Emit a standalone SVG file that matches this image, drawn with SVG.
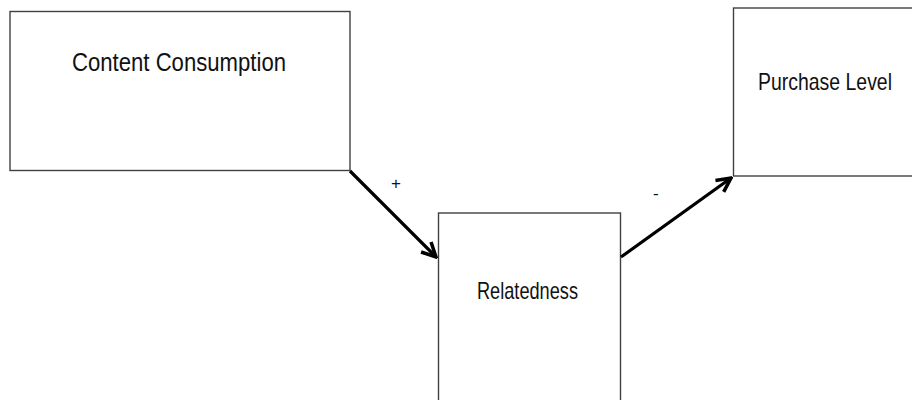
<svg xmlns="http://www.w3.org/2000/svg" width="912" height="400" viewBox="0 0 912 400">
  <style>
    .box { fill: #ffffff; stroke: #404040; stroke-width: 1.4; }
    .label { font-family: "Liberation Sans", Arial, sans-serif; fill: #111111; }
    .edge { fill: none; stroke: #000000; stroke-width: 3.2; }
    .sign { font-family: "Liberation Sans", Arial, sans-serif; font-size: 17px; fill: #111111; }
  </style>
  <defs>
    <marker id="arrow" viewBox="0 0 10 10" refX="9" refY="5" markerWidth="5.5" markerHeight="5.5" orient="auto" markerUnits="strokeWidth">
      <path d="M1,1 L9,5 L1,9" fill="none" stroke="#000000" stroke-width="2" stroke-linejoin="miter"/>
    </marker>
  </defs>
  <rect width="912" height="400" fill="#ffffff"/>

  <g id="content-consumption">
    <rect class="box" x="10" y="11.5" width="340" height="159"/>
    <text class="label" x="72" y="71" font-size="25" textLength="214" lengthAdjust="spacingAndGlyphs">Content  Consumption</text>
  </g>

  <g id="relatedness">
    <rect class="box" x="438.5" y="213" width="182" height="200"/>
    <text class="label" x="477" y="299" font-size="24" textLength="101" lengthAdjust="spacingAndGlyphs">Relatedness</text>
  </g>

  <g id="purchase-level">
    <rect class="box" x="733.5" y="8" width="200" height="168"/>
    <text class="label" x="758" y="90" font-size="24" textLength="134" lengthAdjust="spacingAndGlyphs">Purchase Level</text>
  </g>

  <g id="connectors">
    <line class="edge" x1="350" y1="171" x2="436" y2="257" marker-end="url(#arrow)"/>
    <text class="sign" x="391" y="189">+</text>
    <line class="edge" x1="621" y1="257" x2="731" y2="178" marker-end="url(#arrow)"/>
    <text class="sign" x="653" y="199">-</text>
  </g>
</svg>
